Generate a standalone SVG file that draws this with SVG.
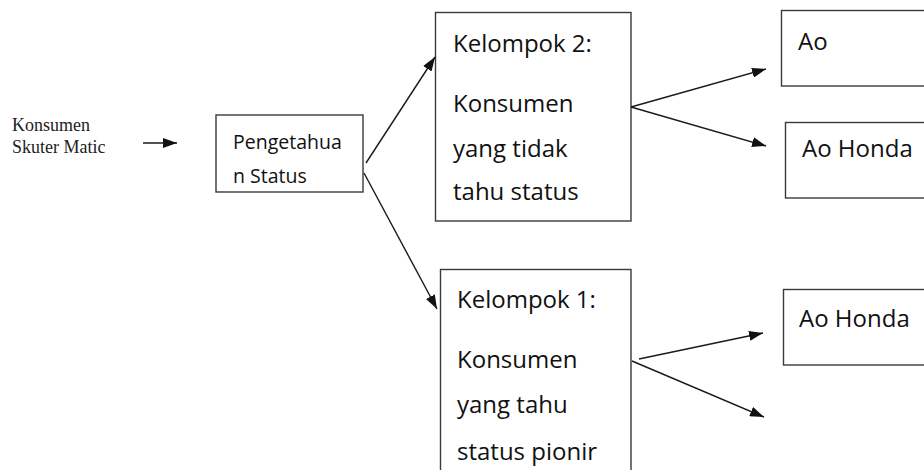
<svg xmlns="http://www.w3.org/2000/svg" width="924" height="470" viewBox="0 0 924 470">
<defs>
<style>
.box{fill:#fff;stroke:#3a3a3a;stroke-width:1.4}
.t{font-family:"Open Sans","Noto Sans","DejaVu Sans",sans-serif;fill:#111}
.big{font-size:24px}
.mid{font-size:19.5px}
.serif{font-family:"Liberation Serif","Times New Roman",serif;font-size:18px;fill:#222}
.c{stroke:#1a1a1a;stroke-width:1.4;fill:none;marker-end:url(#ah)}
</style>
<marker id="ah" viewBox="0 0 14 10" refX="14" refY="5" markerWidth="14" markerHeight="10" markerUnits="userSpaceOnUse" orient="auto">
<path d="M0,0 L14,5 L0,10 z" fill="#111"/>
</marker>
</defs>
<rect width="924" height="470" fill="#fff"/>

<g id="konsumen">
<text class="serif" x="12" y="131">Konsumen</text>
<text class="serif" x="12" y="153">Skuter Matic</text>
</g>

<g id="pengetahuan">
<rect class="box" x="216" y="115" width="147" height="77"/>
<text class="t mid" x="233" y="149">Pengetahua</text>
<text class="t mid" x="233" y="183">n Status</text>
</g>

<g id="kelompok2">
<rect class="box" x="435.5" y="12.5" width="195.5" height="208.5"/>
<text class="t big" x="453" y="52">Kelompok 2:</text>
<text class="t big" x="453" y="112">Konsumen</text>
<text class="t big" x="453" y="157">yang tidak</text>
<text class="t big" x="453" y="200">tahu status</text>
</g>

<g id="kelompok1">
<rect class="box" x="440.5" y="269.5" width="190.5" height="220"/>
<text class="t big" x="457" y="308">Kelompok 1:</text>
<text class="t big" x="457" y="368">Konsumen</text>
<text class="t big" x="457" y="413">yang tahu</text>
<text class="t big" x="457" y="460">status pionir</text>
</g>

<g id="ao-yamaha">
<rect class="box" x="781.5" y="10.5" width="200" height="75.5"/>
<text class="t big" x="798" y="50">Ao</text>
</g>

<g id="ao-honda-1">
<rect class="box" x="785.5" y="122.5" width="200" height="75.5"/>
<text class="t big" x="802" y="157">Ao Honda</text>
</g>

<g id="ao-honda-2">
<rect class="box" x="783.5" y="289.5" width="200" height="75.5"/>
<text class="t big" x="799" y="327">Ao Honda</text>
</g>

<g id="connectors">
<line class="c" x1="143" y1="143" x2="177" y2="143"/>
<line class="c" x1="366" y1="163" x2="435" y2="57"/>
<line class="c" x1="364" y1="173" x2="437" y2="309"/>
<line class="c" x1="631" y1="107" x2="766" y2="69"/>
<line class="c" x1="631" y1="107" x2="766" y2="146"/>
<line class="c" x1="639" y1="359" x2="763" y2="333"/>
<line class="c" x1="632" y1="361" x2="764" y2="417"/>
</g>
</svg>
